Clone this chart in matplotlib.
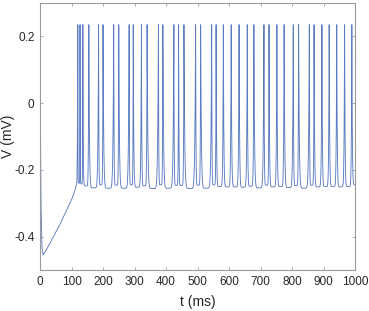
import numpy as np
import matplotlib
matplotlib.use("Agg")
import matplotlib.pyplot as plt

# ---- data ----
# initial transient / ramp (t in ms, V in mV)
ramp_t = [0, 1, 3, 6, 10, 20, 40, 60, 80, 100, 110, 115]
ramp_v = [0.22, 0.0, -0.30, -0.43, -0.455, -0.44, -0.405, -0.37, -0.33, -0.29, -0.265, -0.245]

# spike times (ms)
spike_t = [120, 127, 136, 155, 186, 200, 234, 250, 283, 296, 322, 340, 376, 390,
           425, 440, 457, 494, 510, 545, 559, 582, 607, 632, 658, 679, 711, 727,
           752, 775, 804, 821, 855, 870, 895, 918, 942, 967, 990]
# trough value between consecutive spikes (mV)
trough_v = [-0.240, -0.242, -0.248, -0.254, -0.245, -0.255, -0.246, -0.255, -0.245,
            -0.252, -0.248, -0.256, -0.245, -0.255, -0.246, -0.247, -0.256, -0.246,
            -0.255, -0.245, -0.250, -0.251, -0.251, -0.252, -0.249, -0.254, -0.246,
            -0.251, -0.250, -0.253, -0.247, -0.255, -0.246, -0.251, -0.250, -0.250,
            -0.251, -0.250]
spike_peak = 0.235
end_t, end_v = 1000, -0.245

xticks = [0, 100, 200, 300, 400, 500, 600, 700, 800, 900, 1000]
yticks = [-0.4, -0.2, 0, 0.2]
ytick_labels = ["-0.4", "-0.2", "0", "0.2"]

# ---- build the trace ----
P = 8
ts, vs = [], []
tr = np.arange(ramp_t[0], ramp_t[-1], 0.05)
ts.append(tr); vs.append(np.interp(tr, ramp_t, ramp_v))
# upstroke into first spike
t0, t1 = ramp_t[-1], spike_t[0]
tt = np.arange(t0, t1, 0.02)
s = (tt - t0) / (t1 - t0)
ts.append(tt); vs.append(ramp_v[-1] + (spike_peak - ramp_v[-1]) * s ** 4)
for i in range(len(spike_t) - 1):
    a, b = spike_t[i], spike_t[i + 1]
    tt = np.arange(a, b, 0.02)
    s = (tt - a) / (b - a)
    vmin = trough_v[i]
    ts.append(tt); vs.append(vmin + (spike_peak - vmin) * np.abs(2 * s - 1) ** P)
# final decay after last spike
a = spike_t[-1]
tt = np.arange(a, end_t + 0.01, 0.02)
s = (tt - a) / (2 * (end_t - a) * 1.2)
ts.append(tt); vs.append(end_v + (spike_peak - end_v) * np.abs(2 * s - 1) ** P)
t = np.concatenate(ts); v = np.concatenate(vs)

# ---- plot ----
plt.rcParams["font.family"] = ["Liberation Sans", "DejaVu Sans"]

fig = plt.figure(figsize=(3.69, 3.11), dpi=100)
ax = fig.add_axes([40 / 369, 1 - 270 / 311, 315 / 369, 267 / 311])
ax.plot(t, v, color="#5b7dc4", lw=0.65)
ax.set_xlim(0, 1000)
ax.set_ylim(-0.5, 0.3)
ax.set_xticks(xticks)
ax.set_yticks(yticks)
ax.set_yticklabels(ytick_labels)
ax.tick_params(direction="in", length=2.5, width=0.6, top=True, right=True,
               labelsize=8.5, colors="#9a9a9a", labelcolor="#262626", pad=4)
for sp in ax.spines.values():
    sp.set_color("#9a9a9a")
    sp.set_linewidth(0.8)
ax.set_xlabel("t (ms)", fontsize=10, color="#262626")
ax.set_ylabel("V (mV)", fontsize=10, color="#262626")
ax.xaxis.set_label_coords(0.5, -(302 - 270) / 267, transform=ax.transAxes)
ax.yaxis.set_label_coords((8 - 40) / 315, 0.5, transform=ax.transAxes)
ax.xaxis.label.set_va("center")
ax.yaxis.label.set_va("center")
fig.savefig("out.png", dpi=100)
